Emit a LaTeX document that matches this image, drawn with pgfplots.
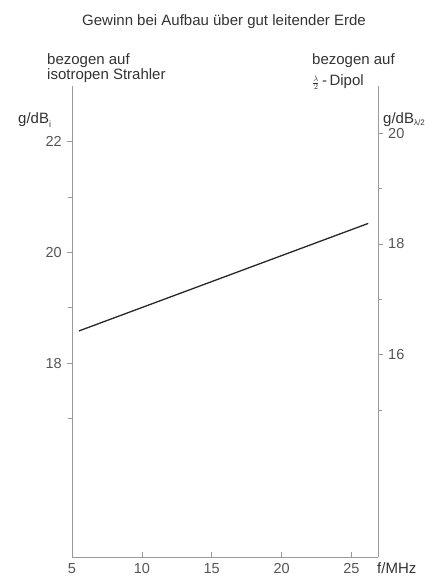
\documentclass[border=0pt]{standalone}
\usepackage{fontspec}
\setmainfont{Liberation Sans}
\usepackage{pgfplots}
\pgfplotsset{compat=1.18}
\definecolor{axgray}{HTML}{9A9A9A}
\definecolor{txt}{HTML}{333333}
\definecolor{ticktxt}{HTML}{555555}
\begin{document}
\fontsize{15bp}{13bp}\selectfont
\begin{tikzpicture}[x=1bp,y=1bp]
\begin{axis}[
  at={(72bp,21bp)}, anchor=south west,
  scale only axis, width=306bp, height=471bp,
  xmin=5, xmax=26.9, ymin=14.5, ymax=23,
  axis x line*=bottom, axis y line*=left,
  axis line style={axgray, line width=0.7pt, -},
  xtick={5,10,15,20,25},
  ytick={18,20,22}, minor ytick={17,19,21},
  xtick align=inside, ytick align=outside,
  major tick length=5bp, minor tick length=4bp,
  tick style={axgray, line width=0.6pt},
  every tick label/.append style={font=\fontsize{14.5bp}{14.5bp}\selectfont, text=ticktxt},
  xticklabel style={yshift=-1.5bp},
  /pgf/number format/assume math mode=true,
  clip=false,
]
\addplot[color=black!85, line width=1.3pt] coordinates {(5.5,18.58) (26.2,20.52)};
\end{axis}
\begin{axis}[
  at={(72bp,21bp)}, anchor=south west,
  scale only axis, width=306bp, height=471bp,
  xmin=5, xmax=26.9, ymin=12.35, ymax=20.85,
  axis x line=none, axis y line*=right,
  axis line style={axgray, line width=0.7pt, -},
  ytick={16,18,20}, minor ytick={15,17,19},
  ytick align=outside,
  major tick length=5bp, minor tick length=4bp,
  tick style={axgray, line width=0.6pt},
  every tick label/.append style={font=\fontsize{14.5bp}{14.5bp}\selectfont, text=ticktxt},
  /pgf/number format/assume math mode=true,
]
\end{axis}
\begin{scope}[every node/.style={text=txt, inner sep=0pt}]
\node[anchor=base] at (224,552) {Gewinn bei Aufbau über gut leitender Erde};
\node[anchor=base west] at (47,513.5) {bezogen auf};
\node[anchor=base west] at (47,498.5) {isotropen Strahler};
\node[anchor=base west] at (312,513.5) {bezogen auf};
\node[anchor=base west] at (312,492) {$\scriptstyle\frac{\lambda}{2}$\,-\,Dipol};
\node[anchor=base west] at (18,454) {g/dB\raisebox{-0.45ex}{\fontsize{9bp}{9bp}\selectfont i}};
\node[anchor=base west] at (383,454) {g/dB\raisebox{-0.25ex}{\fontsize{8bp}{8bp}\selectfont λ/2}};
\node[anchor=base west] at (377,4) {f/MHz};
\end{scope}
\pgfresetboundingbox
\path[use as bounding box] (0,0) rectangle (438,578);
\end{tikzpicture}
\end{document}
